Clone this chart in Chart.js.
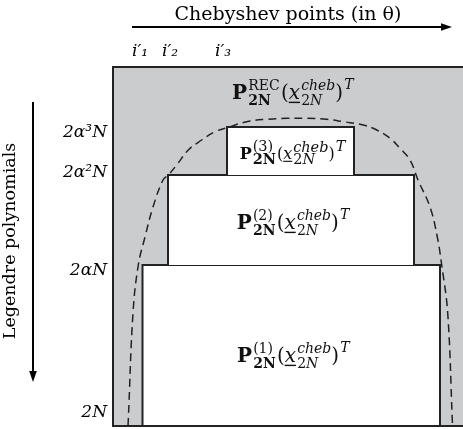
<!DOCTYPE html>
<html><head><meta charset="utf-8">
<script src="https://cdn.jsdelivr.net/npm/chart.js@4/dist/chart.umd.min.js"></script>
<style>html,body{margin:0;padding:0;background:#fff}#wrap{width:463px;height:429px;position:relative}</style>
</head><body><div id="wrap"><canvas id="c"></canvas></div>
<script>
// ---- data (diagram units: x = Chebyshev point index in theta, y = Legendre degree) ----
const xTicks = [27, 57, 110];
const xTickLabels = ['i\u2032\u2081', 'i\u2032\u2082', 'i\u2032\u2083'];
const yTicks = [13, 155, 253, 293];
const yTickLabels = ['2N', '2\u03B1N', '2\u03B1\u00B2N', '2\u03B1\u00B3N'];
const frameX = [0, 350];
const frameY = [0, 359];
// blocks: [x0, x1, yBottom, yTop]
const block1 = [29.5, 327, 0, 161];
const block2 = [55, 301, 161, 251];
const block3 = [114, 241, 251, 299];
const blockSups = ['(1)', '(2)', '(3)'];
// dashed boundary curve
const curveX = [15, 15.3, 20, 25.3, 32, 40, 50, 55.3, 63.7, 75.3, 88.7, 102, 117, 133.7, 153.7, 173.7, 193.7, 213.7, 230.3, 250.3, 263.7, 277, 287, 297, 305, 317, 324.3, 328.7, 334.7, 339.3, 339.5];
const curveY = [0, 6, 113, 161, 189, 219, 246, 251, 261, 276, 286, 294.3, 299.3, 304.3, 306.7, 307.7, 307.7, 306.7, 304.3, 301, 296, 287.7, 277.7, 266, 246, 219, 189, 161, 113, 6, 0];

const SERIF = '"DejaVu Serif", serif';

function blockData(b) {
  return [{x: b[0], y: b[2]}, {x: b[0], y: b[3]}, {x: b[1], y: b[3]}, {x: b[1], y: b[2]}];
}
function blockDataset(b) {
  return {
    data: blockData(b), borderColor: '#222', borderWidth: 2, backgroundColor: '#ffffff',
    fill: {value: b[2]}, pointRadius: 0, tension: 0, order: 2
  };
}

function mathWidth(ctx, sup, s, ss) {
  const fR = z => `${z}px ${SERIF}`, fB = z => `bold ${z}px ${SERIF}`, fI = z => `italic ${z}px ${SERIF}`;
  const w = (f, t) => { ctx.font = f; return ctx.measureText(t).width; };
  const g = s * 0.06;
  return w(fB(s), 'P') + g + Math.max(w(fR(ss), sup), w(fB(ss), '2N')) + g + w(fR(s), '(') + w(fI(s), 'x') + g +
    Math.max(w(fI(ss), 'cheb'), w(fR(ss), '2') + w(fI(ss), 'N')) + w(fR(s), ')') + g + w(fI(ss), 'T');
}

function drawMath(ctx, sup, cx, cy, s, ss) {
  const fR = z => `${z}px ${SERIF}`, fB = z => `bold ${z}px ${SERIF}`, fI = z => `italic ${z}px ${SERIF}`;
  const w = (f, t) => { ctx.font = f; return ctx.measureText(t).width; };
  const wP = w(fB(s), 'P');
  const wA = Math.max(w(fR(ss), sup), w(fB(ss), '2N'));
  const wLp = w(fR(s), '(');
  const wx = w(fI(s), 'x');
  const w2 = w(fR(ss), '2');
  const wB = Math.max(w(fI(ss), 'cheb'), w2 + w(fI(ss), 'N'));
  const wRp = w(fR(s), ')');
  const g = s * 0.06;
  const total = mathWidth(ctx, sup, s, ss);
  let x = cx - total / 2;
  const base = cy + 0.36 * s;
  ctx.save();
  ctx.fillStyle = '#111'; ctx.strokeStyle = '#111';
  ctx.textAlign = 'left'; ctx.textBaseline = 'alphabetic';
  ctx.font = fB(s); ctx.fillText('P', x, base); x += wP + g;
  ctx.font = fR(ss); ctx.fillText(sup, x, base - 0.47 * s);
  ctx.font = fB(ss); ctx.fillText('2N', x, base + 0.3 * s); x += wA + g;
  ctx.font = fR(s); ctx.fillText('(', x, base); x += wLp;
  ctx.font = fI(s); ctx.fillText('x', x, base);
  ctx.lineWidth = Math.max(1, s * 0.07);
  ctx.beginPath(); ctx.moveTo(x, base + 0.16 * s); ctx.lineTo(x + wx, base + 0.16 * s); ctx.stroke();
  x += wx + g;
  ctx.font = fI(ss); ctx.fillText('cheb', x, base - 0.45 * s);
  ctx.font = fR(ss); ctx.fillText('2', x, base + 0.3 * s);
  ctx.font = fI(ss); ctx.fillText('N', x + w2, base + 0.3 * s);
  x += wB;
  ctx.font = fR(s); ctx.fillText(')', x, base); x += wRp + g;
  ctx.font = fI(ss); ctx.fillText('T', x, base - 0.5 * s);
  ctx.restore();
}

const diagramPlugin = {
  id: 'diagram',
  beforeDatasetsDraw(chart) {
    const {ctx, chartArea: a} = chart;
    ctx.save();
    ctx.fillStyle = '#cbccce';
    ctx.fillRect(a.left, a.top, a.right - a.left, a.bottom - a.top);
    ctx.restore();
  },
  afterDatasetsDraw(chart) {
    const {ctx, chartArea: a, scales} = chart;
    const xs = scales.x, ys = scales.y;
    ctx.save();
    // frame
    ctx.strokeStyle = '#222'; ctx.lineWidth = 2;
    ctx.beginPath();
    ctx.moveTo(xs.getPixelForValue(frameX[1]) + 5, ys.getPixelForValue(frameY[1]));
    ctx.lineTo(xs.getPixelForValue(frameX[0]), ys.getPixelForValue(frameY[1]));
    ctx.lineTo(xs.getPixelForValue(frameX[0]), ys.getPixelForValue(frameY[0]));
    ctx.lineTo(xs.getPixelForValue(frameX[1]) + 5, ys.getPixelForValue(frameY[0]));
    ctx.stroke();
    // arrows
    ctx.fillStyle = '#000'; ctx.strokeStyle = '#000'; ctx.lineWidth = 2;
    const hy = 27, hx0 = a.left + 19, hx1 = a.right - 11;
    ctx.beginPath(); ctx.moveTo(hx0, hy); ctx.lineTo(hx1 - 6, hy); ctx.stroke();
    ctx.beginPath(); ctx.moveTo(hx1, hy); ctx.lineTo(hx1 - 11, hy - 3.8); ctx.lineTo(hx1 - 11, hy + 3.8); ctx.closePath(); ctx.fill();
    const vx = 33, vy0 = a.top + 35, vy1 = a.bottom - 44;
    ctx.beginPath(); ctx.moveTo(vx, vy0); ctx.lineTo(vx, vy1 - 6); ctx.stroke();
    ctx.beginPath(); ctx.moveTo(vx, vy1); ctx.lineTo(vx - 3.8, vy1 - 11); ctx.lineTo(vx + 3.8, vy1 - 11); ctx.closePath(); ctx.fill();
    ctx.restore();
    // math labels
    const blocks = [block1, block2, block3];
    const sizes = [20, 20, 16];
    const scriptSizes = [14, 14, 14.5];
    const dy = [-9.5, -2, -2];
    blocks.forEach((b, i) => {
      const cx = xs.getPixelForValue((b[0] + b[1]) / 2) + 2;
      const cy = ys.getPixelForValue((b[2] + b[3]) / 2 + dy[i]);
      drawMath(ctx, blockSups[i], cx, cy, sizes[i], scriptSizes[i]);
    });
    const recLeft = xs.getPixelForValue(block3[0]) + 5;
    const recW = mathWidth(ctx, 'REC', 20, 14);
    drawMath(ctx, 'REC', recLeft + recW / 2, ys.getPixelForValue((block3[3] + frameY[1]) / 2 + 5), 20, 14);
  }
};

new Chart(document.getElementById('c'), {
  type: 'line',
  data: {
    datasets: [
      {
        data: curveX.map((x, i) => ({x, y: curveY[i]})),
        borderColor: '#222', borderWidth: 1.5, borderDash: [8, 5], fill: false,
        pointRadius: 0, tension: 0.4, order: 0
      },
      blockDataset(block3),
      blockDataset(block2),
      blockDataset(block1)
    ]
  },
  options: {
    responsive: true, maintainAspectRatio: false, animation: false,
    layout: {padding: {left: 0, top: 0, right: 0, bottom: 3}},
    plugins: {legend: {display: false}, tooltip: {enabled: false}},
    scales: {
      x: {
        type: 'linear', position: 'top', min: frameX[0], max: frameX[1],
        grid: {display: false, drawTicks: false}, border: {display: false},
        afterBuildTicks: s => { s.ticks = xTicks.map(v => ({value: v})); },
        afterFit: s => { s.height = 67; s.paddingLeft = 0; s.paddingRight = 0; },
        ticks: {
          autoSkip: false, maxRotation: 0, padding: 5, color: '#000',
          font: {family: SERIF, style: 'italic', size: 17},
          callback: (v, i) => xTickLabels[i]
        },
        title: {display: true, text: 'Chebyshev points (in \u03B8)', color: '#000',
          font: {family: SERIF, size: 19}, padding: {top: 4, bottom: 0}}
      },
      y: {
        type: 'linear', position: 'left', min: frameY[0], max: frameY[1],
        grid: {display: false, drawTicks: false}, border: {display: false},
        afterBuildTicks: s => { s.ticks = yTicks.map(v => ({value: v})); },
        afterFit: s => { s.width = 113; s.paddingTop = 0; s.paddingBottom = 0; },
        ticks: {
          autoSkip: false, padding: 6, color: '#000',
          font: {family: SERIF, style: 'italic', size: 17},
          callback: (v, i) => yTickLabels[i]
        },
        title: {display: true, text: '\u00A0\u00A0Legendre polynomials', color: '#000',
          font: {family: SERIF, size: 17.5}, padding: {top: 0, bottom: 0}}
      }
    }
  },
  plugins: [diagramPlugin]
});
</script>
</body></html>
